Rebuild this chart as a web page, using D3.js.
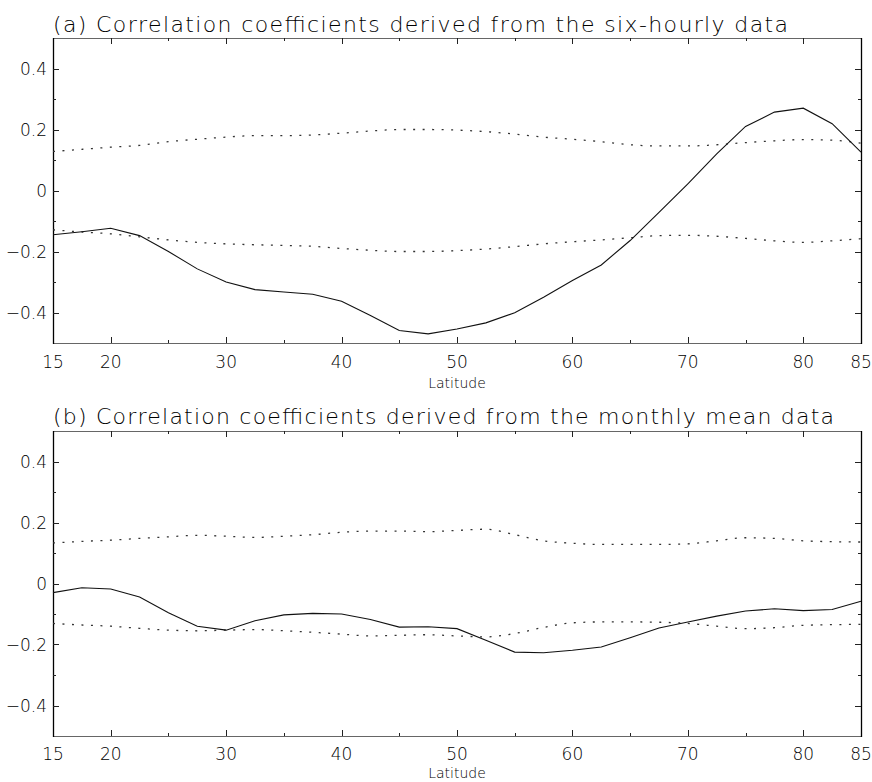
<!DOCTYPE html>
<html><head><meta charset="utf-8">
<script src="https://cdn.jsdelivr.net/npm/d3@7"></script>
<style>
body{margin:0;background:#fff;}
text{font-family:"DejaVu Sans ExtraLight","DejaVu Sans",sans-serif;font-weight:200;fill:#000;}
</style></head>
<body><svg id="c" width="872" height="782"></svg>
<script>
const latitudes = [15,17.5,20,22.5,25,27.5,30,32.5,35,37.5,40,42.5,45,47.5,50,52.5,55,57.5,60,62.5,65,67.5,70,72.5,75,77.5,80,82.5,85];

// (a) six-hourly
const aSolid = [-0.145,-0.135,-0.124,-0.148,-0.200,-0.257,-0.300,-0.325,-0.333,-0.340,-0.363,-0.410,-0.459,-0.470,-0.454,-0.434,-0.401,-0.350,-0.295,-0.244,-0.164,-0.072,0.022,0.120,0.210,0.257,0.270,0.219,0.126];
const aUpper = [0.128,0.135,0.142,0.148,0.160,0.168,0.175,0.180,0.180,0.182,0.188,0.195,0.200,0.200,0.198,0.193,0.185,0.175,0.168,0.160,0.150,0.146,0.146,0.150,0.157,0.163,0.167,0.165,0.155];
const aLower = [-0.129,-0.136,-0.142,-0.152,-0.162,-0.170,-0.175,-0.178,-0.180,-0.183,-0.190,-0.196,-0.200,-0.200,-0.197,-0.192,-0.184,-0.175,-0.168,-0.162,-0.155,-0.148,-0.147,-0.150,-0.157,-0.165,-0.170,-0.165,-0.158];

// (b) monthly mean
const bSolid = [-0.030,-0.014,-0.018,-0.044,-0.096,-0.140,-0.153,-0.122,-0.103,-0.098,-0.100,-0.118,-0.143,-0.142,-0.148,-0.186,-0.225,-0.227,-0.219,-0.208,-0.178,-0.146,-0.126,-0.107,-0.090,-0.083,-0.089,-0.085,-0.058];
const bUpper = [0.133,0.138,0.142,0.148,0.153,0.158,0.155,0.151,0.155,0.160,0.168,0.172,0.172,0.170,0.174,0.178,0.160,0.140,0.132,0.128,0.128,0.128,0.130,0.140,0.150,0.148,0.140,0.137,0.136];
const bLower = [-0.131,-0.136,-0.140,-0.147,-0.153,-0.155,-0.153,-0.151,-0.155,-0.160,-0.166,-0.172,-0.170,-0.168,-0.172,-0.175,-0.164,-0.144,-0.129,-0.126,-0.126,-0.127,-0.131,-0.140,-0.148,-0.145,-0.137,-0.135,-0.134];

const xLabels = [15,20,30,40,50,60,70,80,85];
const xMajor = [20,30,40,50,60,70,80];
const xMinor = [25,35,45,55,65,75];
const yMajor = [0.4,0.2,0,-0.2,-0.4];
const yMinor = [0.3,0.1,-0.1,-0.3];
const titles = ["(a) Correlation coefficients derived from the six-hourly data",
                "(b) Correlation coefficients derived from the monthly mean data"];
const xTitle = "Latitude";

const svg = d3.select("#c");
const L = 53, R = 861;
const panels = [
  {top:38, bottom:343, title:titles[0], titleY:32, titleW:735, solid:aSolid, upper:aUpper, lower:aLower, labY:368, xtY:388},
  {top:431, bottom:736, title:titles[1], titleY:424, titleW:781, solid:bSolid, upper:bUpper, lower:bLower, labY:760, xtY:778}
];

const fmt = v => v === 0 ? "0" : (v < 0 ? "\u2212" + Math.abs(v).toFixed(1) : v.toFixed(1));

panels.forEach(p => {
  const x = d3.scaleLinear().domain([15,85]).range([L,R]);
  const y = d3.scaleLinear().domain([-0.5,0.5]).range([p.bottom,p.top]);
  const g = svg.append("g");

  g.append("text").attr("x", L).attr("y", p.titleY)
    .attr("font-size", 22).attr("textLength", p.titleW).attr("lengthAdjust","spacing")
    .text(p.title);

  // frame
  g.append("line").attr("x1",L).attr("x2",R).attr("y1",p.top+0.5).attr("y2",p.top+0.5).attr("stroke","#666").attr("stroke-width",1.2);
  g.append("line").attr("x1",L).attr("x2",R).attr("y1",p.bottom+0.5).attr("y2",p.bottom+0.5).attr("stroke","#666").attr("stroke-width",1.2);
  g.append("line").attr("x1",L+0.5).attr("x2",L+0.5).attr("y1",p.top).attr("y2",p.bottom+1).attr("stroke","#000").attr("stroke-width",1.3);
  g.append("line").attr("x1",R+0.5).attr("x2",R+0.5).attr("y1",p.top).attr("y2",p.bottom+1).attr("stroke","#000").attr("stroke-width",1.3);

  const tick = (sel) => sel.attr("stroke","#222").attr("stroke-width",1);
  [[xMajor,6],[xMinor,3]].forEach(([vals,len]) => {
    vals.forEach(v => {
      const xx = Math.round(x(v))+0.5;
      tick(g.append("line").attr("x1",xx).attr("x2",xx).attr("y1",p.bottom).attr("y2",p.bottom-len));
      tick(g.append("line").attr("x1",xx).attr("x2",xx).attr("y1",p.top).attr("y2",p.top+len));
    });
  });
  [[yMajor,6],[yMinor,3]].forEach(([vals,len]) => {
    vals.forEach(v => {
      const yy = Math.round(y(v))+0.5;
      tick(g.append("line").attr("x1",L).attr("x2",L+len).attr("y1",yy).attr("y2",yy));
      tick(g.append("line").attr("x1",R).attr("x2",R-len).attr("y1",yy).attr("y2",yy));
    });
  });

  xLabels.forEach(v => {
    g.append("text").attr("x", x(v)).attr("y", p.labY).attr("text-anchor","middle")
      .attr("font-size",17).text(v);
  });
  yMajor.forEach(v => {
    g.append("text").attr("x", L-6).attr("y", y(v)+6).attr("text-anchor","end")
      .attr("font-size",17).text(fmt(v));
  });
  g.append("text").attr("x",(L+R)/2).attr("y",p.xtY).attr("text-anchor","middle")
    .attr("font-size",14).text(xTitle);

  const line = d3.line().x((d,i)=>x(latitudes[i])).y(d=>y(d));
  const dline = d3.line().curve(d3.curveMonotoneX).x((d,i)=>x(latitudes[i])).y(d=>y(d));
  g.append("path").attr("d", dline(p.upper)).attr("fill","none").attr("stroke","#333")
    .attr("stroke-width",1.3).attr("stroke-dasharray","2,7.5");
  g.append("path").attr("d", dline(p.lower)).attr("fill","none").attr("stroke","#333")
    .attr("stroke-width",1.3).attr("stroke-dasharray","2,7.5");
  g.append("path").attr("d", line(p.solid)).attr("fill","none").attr("stroke","#111")
    .attr("stroke-width",1.1);
});
</script>
</body></html>
